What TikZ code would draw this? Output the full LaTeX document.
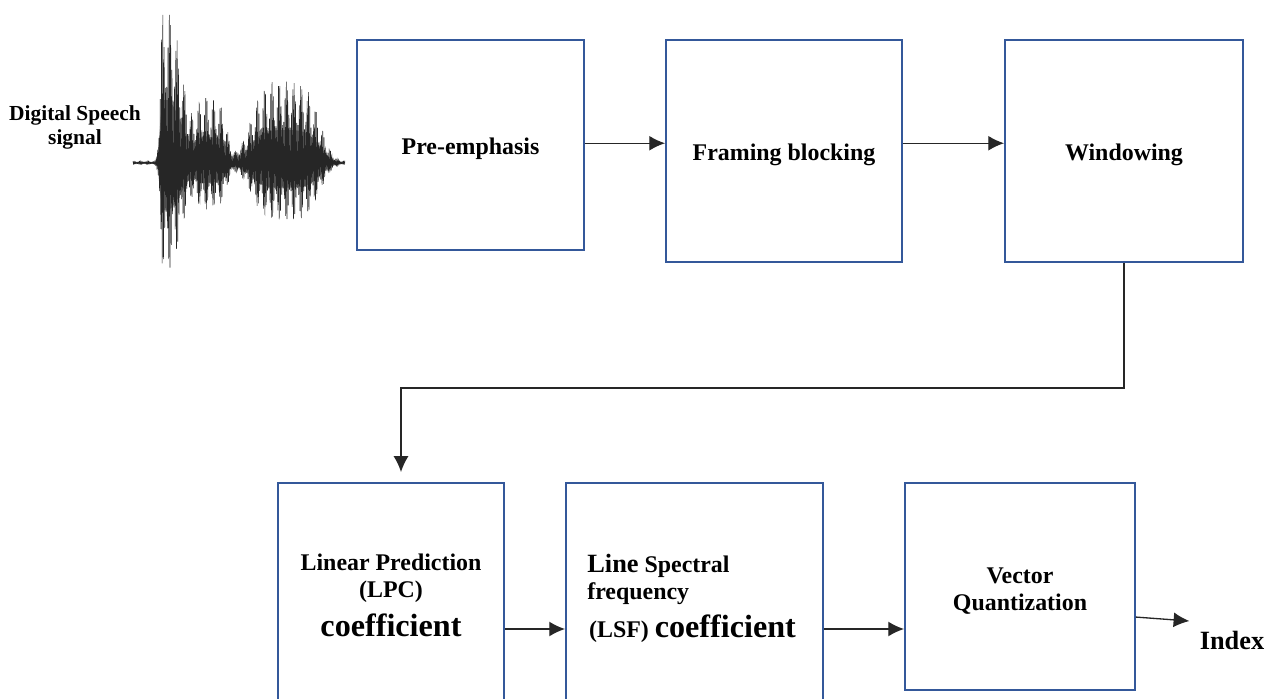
\documentclass[tikz,border=0pt]{standalone}
\usepackage{fontspec}
\setmainfont{Liberation Serif}
\usepackage{xcolor}
\usetikzlibrary{calc,arrows.meta}
\definecolor{boxblue}{RGB}{52,88,154}

\begin{document}
\begin{tikzpicture}[x=0.02cm,y=-0.02cm,
		box/.style={draw=boxblue,line width=1.1pt,rectangle,inner sep=0pt,align=center,font=\bfseries\fontsize{13.6}{15.4}\selectfont},
		oneline/.style={text height=11pt,text depth=0pt},
		lbl/.style={inner sep=0pt,font=\bfseries\fontsize{13.6}{15.4}\selectfont},
		arr/.style={-{Latex[length=9pt,width=8.5pt]},line width=0.75pt,draw=black!85},
		declare function={
			cl(\u,\m)=min(abs(\u),\m);
			envA(\t)=(\t<166)*156*exp(-cl((\t-166)/7,1.7)^4)+(\t>=166)*156*exp(-cl((\t-166)/22,3)^2);
			envB(\t)=60*exp(-cl((\t-212)/17,1.7)^4)+5*exp(-cl((\t-238)/6,3)^2);
			envC(\t)=80*exp(-cl((\t-285)/38,1.7)^4);
			env(\t)=envA(\t)+envB(\t)+envC(\t)+2;
			car(\t)=sin(360*frac(\t/1.3));
		}]
				\useasboundingbox (0,0) rectangle (1281,699);
				% speech signal
				\node[inner sep=0pt,align=center,font=\bfseries\fontsize{12.2}{13.7}\selectfont] (sig) at (75,127){Digital Speech\\signal};
				\fill[black!40] plot[domain=133:345,samples=200] (\x,{163-0.4*env(\x)})
					-- plot[domain=345:133,samples=200] (\x,{163+0.3*env(\x)}) -- cycle;
				\draw[line width=0.3pt,black!85] plot[domain=133:345,samples=2000]
					(\x,{163-env(\x)*(0.72+0.28*sin(360*frac(\x/7.3)))*(max(car(\x),0)+0.7*min(car(\x),0))});
				% top row
				\node[box,oneline,minimum width=4.54cm,minimum height=4.2cm] (pre) at (470.5,145){Pre-emphasis};
				\node[box,oneline,minimum width=4.72cm,minimum height=4.44cm] (frame) at (784,151){Framing blocking};
				\node[box,oneline,minimum width=4.76cm,minimum height=4.44cm] (win) at (1124,151){Windowing};
				% bottom row
				\node[box,minimum width=4.52cm,minimum height=5.84cm] (lpc) at (391,629){};
				\node[box,minimum width=5.14cm,minimum height=5.84cm] (lsf) at (694.5,629){};
				\node[box,minimum width=4.6cm,minimum height=4.14cm] (vq) at (1020,586.5){};
				\node[lbl,align=center,anchor=north] (lpctxt) at (391,554){Linear Prediction\\(LPC)\\[5.1pt]{\fontsize{18.3}{20}\selectfont coefficient}};
				\node[lbl,align=left,anchor=north west] (lsftxt) at (587,553.5){{\fontsize{15}{18}\selectfont Line} Spectral\\frequency\\[5.1pt]\hspace{1pt}(LSF) {\fontsize{18.3}{20}\selectfont coefficient}};
				\node[lbl,align=center,anchor=north] (vqtxt) at (1020,567){Vector\\Quantization};
				\node[inner sep=0pt,font=\bfseries\fontsize{15}{18}\selectfont] (idx) at (1232,640){Index};
				\coordinate (bend) at (401,388);
				\begin{scope}
				\draw[arr] ([yshift=1pt]pre.east) -- ([yshift=1pt]pre.east -| frame.west);
				\draw[arr] ([yshift=1pt]frame.east |- pre.east) -- ([yshift=1pt]pre.east -| win.west);
				\draw[arr,shorten >=5.7pt] (win.south) |- (bend) -- (bend |- lpc.north);
				\draw[arr] (lpc.east) -- (lsf.west);
				\draw[arr] (lsf.east) -- (lsf.east -| vq.west);
				\draw[arr] ([yshift=-17.4pt]vq.east) -- ([shift={(-5.7pt,10.8pt)}]idx.west);
				\end{scope}
			\end{tikzpicture}
\end{document}
